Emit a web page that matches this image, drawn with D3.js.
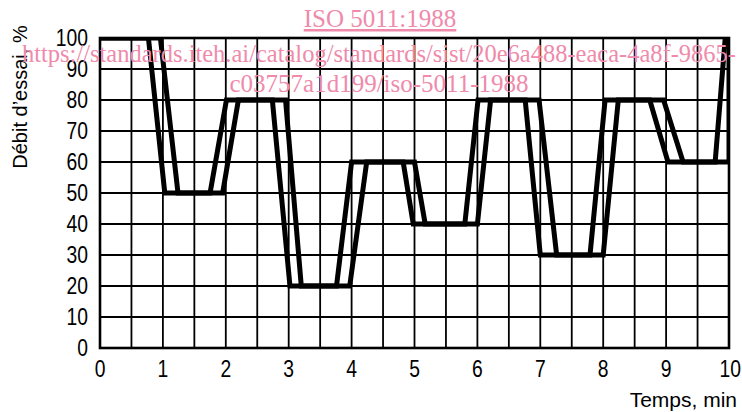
<!DOCTYPE html>
<html>
<head>
<meta charset="utf-8">
<script src="https://cdn.jsdelivr.net/npm/d3@7"></script>
<style>
  body { margin: 0; background: #fff; }
  svg { display: block; }
  .tick-lbl { font-family: "Liberation Sans", Arial, sans-serif; font-size: 23px; fill: #000; }
  .ttl { font-family: "Liberation Sans", Arial, sans-serif; font-size: 20px; fill: #000; }
  .wm { font-family: "Liberation Serif", "Times New Roman", serif; font-size: 25px; fill: #ef8aab; }
</style>
</head>
<body>
<div id="chart"></div>
<script>
// test cycle, two limit curves (leading and lagging)
var leadTime = [0, 0.77, 1.03, 1.75, 2.01, 2.74, 3.02, 3.76, 4.0, 4.82, 4.98, 5.8, 6.01, 6.76, 7.0, 7.79, 8.03, 8.74, 9.03, 9.78, 9.94, 10];
var leadFlow = [100, 100, 50, 50, 80, 80, 20, 20, 60, 60, 40, 40, 80, 80, 30, 30, 80, 80, 60, 60, 100, 100];

var lagTime = [0, 0.96, 1.24, 1.95, 2.2, 2.95, 3.2, 3.97, 4.24, 5.0, 5.17, 6.0, 6.21, 6.98, 7.26, 8.0, 8.24, 8.96, 9.27, 10.0, 10.0];
var lagFlow = [100, 100, 50, 50, 80, 80, 20, 20, 60, 60, 40, 40, 80, 80, 30, 30, 80, 80, 60, 60, 100];

var xTicks = [0, 1, 2, 3, 4, 5, 6, 7, 8, 9, 10];
var yTicks = [0, 10, 20, 30, 40, 50, 60, 70, 80, 90, 100];

var width = 742, height = 412;
var margin = {top: 38, right: 13, bottom: 64, left: 100};
var narrow = 0.84; // digits in the drawing are narrow

var svg = d3.select("#chart").append("svg")
    .attr("width", width)
    .attr("height", height);

var x = d3.scaleLinear().domain([0, 10]).range([margin.left, width - margin.right]);
var y = d3.scaleLinear().domain([0, 100]).range([height - margin.bottom, margin.top]);

svg.append("clipPath").attr("id", "plot")
  .append("rect")
    .attr("x", x(0)).attr("y", y(100))
    .attr("width", x(10) - x(0)).attr("height", y(0) - y(100));

// grid: every half minute, every 10 %
var g = svg.append("g");
g.selectAll(".vg").data(d3.range(0, 10.01, 0.5)).enter().append("line")
    .attr("x1", d => x(d)).attr("x2", d => x(d))
    .attr("y1", y(0)).attr("y2", y(100))
    .attr("stroke", "#000").attr("stroke-width", 1.8);
g.selectAll(".hg").data(yTicks).enter().append("line")
    .attr("x1", x(0)).attr("x2", x(10))
    .attr("y1", d => y(d)).attr("y2", d => y(d))
    .attr("stroke", "#000").attr("stroke-width", 1.8);

// curves
var line = d3.line().x(d => x(d[0])).y(d => y(d[1]));
[[leadTime, leadFlow], [lagTime, lagFlow]].forEach(function (s) {
    var pts = s[0].map((t, i) => [t, s[1][i]]);
    svg.append("path")
        .attr("clip-path", "url(#plot)")
        .attr("d", line(pts))
        .attr("fill", "none")
        .attr("stroke", "#000")
        .attr("stroke-width", 5)
        .attr("stroke-linejoin", "miter");
});

// frame
svg.append("rect")
    .attr("x", x(0)).attr("y", y(100))
    .attr("width", x(10) - x(0)).attr("height", y(0) - y(100))
    .attr("fill", "none").attr("stroke", "#000").attr("stroke-width", 2.6);

// tick labels
svg.selectAll(".yl").data(yTicks).enter().append("text")
    .attr("class", "tick-lbl")
    .attr("transform", d => "translate(88," + (y(d) + 8) + ") scale(" + narrow + ",1)")
    .attr("text-anchor", "end")
    .text(d => d);
svg.selectAll(".xl").data(xTicks).enter().append("text")
    .attr("class", "tick-lbl")
    .attr("transform", d => (d == 10 ? "translate(741,377)" : "translate(" + x(d) + ",377)") + " scale(" + narrow + ",1)")
    .attr("text-anchor", d => d == 10 ? "end" : "middle")
    .text(d => d);

// axis titles
svg.append("text").attr("class", "ttl")
    .attr("transform", "translate(27,97) rotate(-90)")
    .attr("text-anchor", "middle")
    .text("Débit d’essai, %");
svg.append("text").attr("class", "ttl")
    .attr("x", 737).attr("y", 407)
    .attr("text-anchor", "end")
    .style("font-size", "21px")
    .text("Temps, min");

// watermark
svg.append("text").attr("class", "wm")
    .attr("x", 380).attr("y", 27)
    .attr("text-anchor", "middle")
    .style("text-decoration", "underline")
    .text("ISO 5011:1988");
svg.append("text").attr("class", "wm")
    .attr("x", 22).attr("y", 62)
    .attr("textLength", 714).attr("lengthAdjust", "spacingAndGlyphs")
    .text("https://standards.iteh.ai/catalog/standards/sist/20e6a488-eaca-4a8f-9865-");
svg.append("text").attr("class", "wm")
    .attr("x", 379).attr("y", 92)
    .attr("text-anchor", "middle")
    .text("c03757a1d199/iso-5011-1988");
</script>
</body>
</html>
